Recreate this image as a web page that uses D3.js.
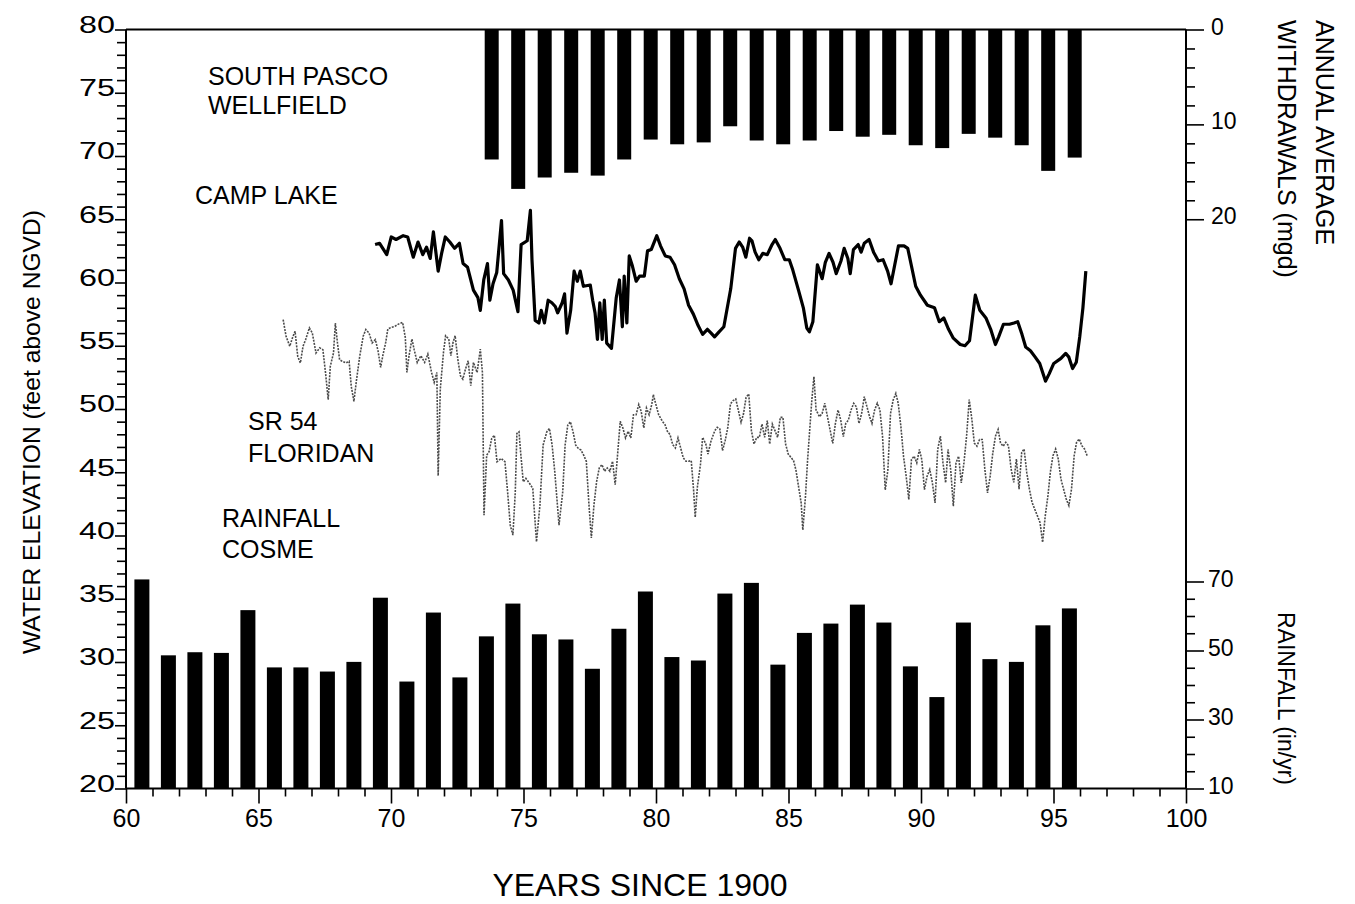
<!DOCTYPE html>
<html><head><meta charset="utf-8">
<script src="https://cdn.jsdelivr.net/npm/d3@7"></script>
<style>
body{margin:0;background:#fff;}
svg{display:block;font-family:"Liberation Sans",Arial,Helvetica,sans-serif;}
</style></head><body>
<svg id="chart" width="1355" height="904"></svg>
<script>
// ---------------- DATA ----------------
const elevTicks = [20,25,30,35,40,45,50,55,60,65,70,75,80];
const yearTicks = [60,65,70,75,80,85,90,95,100];
const withdrawTicks = [0,10,20];
const rainTicks = [10,30,50,70];

// Rainfall at Cosme (in/yr), years since 1900
const rainYears = [60,61,62,63,64,65,66,67,68,69,70,71,72,73,74,75,76,77,78,79,80,81,82,83,84,85,86,87,88,89,90,91,92,93,94,95];
const rainfall  = [70.6,48.6,49.5,49.3,61.7,45.1,45.1,43.9,46.7,65.3,41.0,61.0,42.2,54.1,63.6,54.7,53.2,44.7,56.3,67.1,48.1,47.1,66.5,69.6,45.9,55.1,57.8,63.3,58.1,45.4,36.5,58.1,47.5,46.7,57.3,62.2];

// South Pasco wellfield annual average withdrawals (mgd)
const withdrawYears = [74,75,76,77,78,79,80,81,82,83,84,85,86,87,88,89,90,91,92,93,94,95,96];
const withdrawals   = [13.7,16.8,15.6,15.1,15.4,13.7,11.6,12.1,11.9,10.2,11.7,12.1,11.7,10.7,11.3,11.1,12.2,12.5,11.0,11.4,12.2,14.9,13.5];

// Camp Lake water level (ft NGVD)
const campT = [69.40,69.57,69.84,70.01,70.19,70.46,70.63,70.84,71.02,71.20,71.34,71.48,71.60,71.78,71.91,72.05,72.22,72.40,72.58,72.72,72.89,73.11,73.28,73.37,73.50,73.64,73.73,73.85,73.99,74.17,74.25,74.43,74.61,74.79,74.91,75.14,75.26,75.32,75.44,75.58,75.67,75.79,75.93,76.07,76.20,76.29,76.46,76.55,76.64,76.78,76.91,77.03,77.14,77.26,77.52,77.61,77.70,77.79,77.88,77.97,78.05,78.14,78.32,78.50,78.62,78.73,78.80,78.90,78.99,79.11,79.25,79.38,79.56,79.68,79.82,80.03,80.17,80.35,80.53,80.70,80.88,81.06,81.23,81.41,81.59,81.76,81.94,82.08,82.21,82.38,82.56,82.82,83.00,83.14,83.27,83.39,83.53,83.62,83.74,83.88,84.03,84.20,84.38,84.50,84.68,84.86,85.03,85.16,85.39,85.56,85.69,85.79,85.92,86.09,86.27,86.39,86.53,86.68,86.80,86.98,87.10,87.24,87.33,87.45,87.63,87.74,87.86,88.04,88.21,88.39,88.57,88.74,88.87,89.01,89.15,89.36,89.50,89.63,89.80,89.98,90.24,90.51,90.69,90.86,91.04,91.22,91.48,91.66,91.83,92.05,92.22,92.45,92.63,92.81,92.93,93.11,93.34,93.51,93.65,93.81,93.95,94.13,94.31,94.48,94.70,94.84,95.01,95.28,95.46,95.58,95.72,95.86,95.99,96.11,96.22];
const campElev = [63.0,63.1,62.2,63.6,63.4,63.7,63.6,62.0,63.2,62.2,62.8,61.9,64.0,60.9,62.3,63.6,63.2,62.7,63.1,61.5,61.2,59.4,58.8,57.8,60.2,61.5,58.6,59.9,60.8,64.9,60.7,60.2,59.4,57.7,63.0,63.3,65.7,61.8,57.0,56.8,57.8,56.8,58.6,58.4,58.1,57.6,58.4,59.1,56.0,57.8,60.9,60.1,60.9,59.7,59.8,58.6,57.6,55.5,58.4,55.5,58.6,55.2,54.8,58.8,60.2,56.5,60.5,56.8,62.1,61.3,60.1,60.5,60.5,62.5,62.6,63.7,62.9,62.1,62.0,61.4,60.3,59.5,58.2,57.5,56.6,55.9,56.3,56.0,55.7,56.1,56.5,59.5,62.7,63.2,62.8,62.0,63.5,63.3,62.4,61.8,62.3,62.2,63.0,63.4,62.7,61.8,61.8,61.0,59.3,58.0,56.4,56.1,56.9,61.4,60.3,61.6,62.3,61.6,60.7,61.7,62.7,61.9,60.7,62.6,63.0,62.4,63.1,63.4,62.4,61.7,61.8,60.9,59.9,61.4,62.9,62.9,62.7,61.4,59.7,59.0,58.2,58.0,56.9,57.2,56.3,55.6,55.1,55.0,55.4,59.0,57.8,57.2,56.3,55.1,55.7,56.7,56.7,56.8,56.9,55.9,54.9,54.6,54.1,53.6,52.2,52.8,53.6,54.0,54.4,54.1,53.2,53.7,55.7,58.0,60.9];

// SR 54 Floridan well level (ft NGVD)
const sr54T = [65.93,66.04,66.18,66.28,66.38,66.48,66.58,66.68,66.78,66.92,67.03,67.17,67.31,67.43,67.53,67.63,67.71,67.83,67.90,67.98,68.06,68.16,68.30,68.42,68.50,68.60,68.70,68.82,68.95,69.05,69.17,69.29,69.41,69.51,69.61,69.69,69.80,69.88,70.00,70.14,70.28,70.44,70.54,70.60,70.68,70.79,70.87,70.99,71.13,71.27,71.39,71.53,71.63,71.73,71.78,71.86,71.98,72.06,72.18,72.26,72.34,72.42,72.52,72.62,72.71,72.81,72.91,73.01,73.11,73.25,73.37,73.45,73.51,
73.61,73.70,73.80,73.90,74.00,74.16,74.30,74.40,74.50,74.60,74.69,74.75,74.83,74.89,74.99,75.09,75.23,75.35,75.49,75.62,75.74,75.88,75.98,76.08,76.18,76.34,76.48,76.57,76.67,76.77,76.87,76.97,77.07,77.17,77.27,
77.37,77.47,77.56,77.66,77.76,77.86,77.96,78.06,78.16,78.26,78.36,78.46,78.55,78.65,78.75,78.85,78.95,79.05,79.15,79.25,79.35,79.44,79.54,79.64,79.74,79.84,79.90,79.98,80.10,80.24,80.34,80.43,80.53,80.63,80.73,80.83,80.93,81.03,81.13,81.23,
81.33,81.42,81.48,81.56,81.68,81.76,81.88,81.96,82.08,82.22,82.31,82.41,82.51,82.61,82.71,82.81,82.91,83.01,83.11,83.21,83.30,83.40,83.50,83.60,83.70,83.80,83.90,84.00,84.10,84.20,84.29,84.39,84.49,84.59,84.69,84.79,84.89,84.99,85.09,85.19,
85.28,85.38,85.48,85.54,85.64,85.72,85.80,85.88,85.96,86.04,86.17,86.27,86.37,86.47,86.57,86.67,86.77,86.87,86.97,87.07,87.16,87.26,87.36,87.46,87.56,87.66,87.76,87.86,87.96,88.06,88.15,88.25,88.35,88.45,88.55,88.65,88.75,88.85,88.95,89.05,89.14,
89.24,89.34,89.44,89.54,89.64,89.74,89.84,89.94,90.03,90.13,90.23,90.33,90.43,90.53,90.63,90.73,90.83,90.93,91.02,91.12,91.22,91.32,91.42,91.52,91.62,91.72,91.82,91.92,92.01,92.11,92.21,92.31,92.41,92.51,92.61,92.71,92.81,92.91,93.00,93.10,
93.20,93.30,93.40,93.50,93.60,93.70,93.80,93.89,93.99,94.09,94.19,94.29,94.39,94.49,94.59,94.69,94.79,94.88,94.98,95.08,95.18,95.28,95.38,95.48,95.58,95.68,95.78,95.87,95.97,96.07,96.17,96.27];
const sr54Elev = [57.07,55.75,54.96,55.62,56.14,54.17,53.64,54.96,55.49,56.41,56.01,54.43,54.83,54.69,52.85,50.74,53.38,54.43,56.80,55.22,53.90,53.77,53.64,53.77,51.80,50.61,52.32,54.17,55.75,56.28,56.01,55.22,55.49,54.60,53.29,54.21,55.26,56.32,56.45,56.53,56.71,56.84,55.66,52.89,54.21,55.53,54.73,53.68,54.21,53.68,54.34,52.89,52.10,52.89,44.72,51.57,54.47,55.79,55.53,54.21,55.26,55.79,53.94,52.63,52.36,53.15,53.81,51.84,53.68,52.89,54.73,52.89,41.61,
46.35,46.62,47.67,47.93,45.83,46.09,45.83,43.45,40.82,40.03,43.45,48.07,48.20,46.62,44.24,44.51,44.11,43.72,39.50,42.40,47.14,48.20,48.46,47.14,45.04,40.82,43.45,47.14,48.72,48.99,48.20,47.14,46.88,46.75,46.35,
45.87,42.44,39.81,42.44,44.28,45.34,45.60,45.08,45.34,45.08,45.87,44.02,46.39,49.03,48.50,47.71,48.24,47.71,49.55,49.55,50.35,49.82,48.50,50.08,49.55,50.35,51.14,50.48,49.55,49.03,48.76,48.24,47.97,47.18,46.92,47.71,46.92,46.13,45.87,45.87,
45.92,43.54,41.44,43.81,45.65,47.76,47.23,46.44,47.50,48.29,48.55,48.42,46.71,47.50,48.55,50.40,50.66,50.79,49.87,48.95,49.60,50.92,51.19,48.29,47.23,47.76,47.76,48.81,47.76,49.08,47.23,48.81,48.29,47.76,49.34,49.34,47.23,46.44,46.18,45.92,
45.18,43.86,42.54,40.43,43.07,45.96,48.34,50.71,52.55,49.92,49.39,49.65,50.45,49.39,48.34,47.28,48.86,49.92,49.13,47.81,48.86,49.13,49.92,50.45,50.18,48.86,49.65,50.97,50.18,49.39,48.86,49.92,50.45,49.92,47.81,43.59,45.18,49.65,50.71,51.24,50.45,
48.64,46.27,44.69,42.84,46.00,46.27,45.74,46.80,46.00,43.63,44.69,45.22,44.16,42.58,46.80,47.85,45.74,44.16,46.80,45.22,42.32,45.74,46.27,44.16,45.74,47.85,50.75,49.17,47.32,47.06,47.59,47.59,45.22,43.37,44.69,46.53,47.85,48.38,47.32,47.06,
47.36,47.10,45.26,44.20,46.05,43.67,46.57,46.84,44.99,43.67,42.62,42.09,41.57,41.04,39.46,41.57,43.15,44.99,46.31,46.84,46.05,44.47,43.67,42.88,42.36,43.67,46.31,47.36,47.63,47.10,46.84,46.31];

// ---------------- LAYOUT ----------------
const L = 126, R = 1186, T = 29.5, B = 788.5;
const svg = d3.select("#chart");
const x = d3.scaleLinear().domain([60,100]).range([L,R]);
const yElev = d3.scaleLinear().domain([20,80]).range([B,T]);
const yRain = d3.scaleLinear().domain([10,230]).range([B,T]);
const yWd = d3.scaleLinear().domain([0,80]).range([T,B]);

// bars: rainfall (from bottom)
const rainW = 15, rainOff = 0.6;
svg.append("g").selectAll("rect").data(rainYears).join("rect")
  .attr("x",(d)=>x(d+rainOff)-rainW/2)
  .attr("width",rainW)
  .attr("y",(d,i)=>yRain(rainfall[i]))
  .attr("height",(d,i)=>yRain(10)-yRain(rainfall[i]))
  .attr("fill","#000");

// bars: withdrawals (hanging from top)
const wdW = 14, wdOff = -0.2;
svg.append("g").selectAll("rect").data(withdrawYears).join("rect")
  .attr("x",(d)=>x(d+wdOff)-wdW/2)
  .attr("width",wdW)
  .attr("y",yWd(0))
  .attr("height",(d,i)=>yWd(withdrawals[i])-yWd(0))
  .attr("fill","#000");

// SR 54 line (stippled grey)
const srData = sr54T.map((t,i)=>[t,sr54Elev[i]]);
svg.append("path").datum(srData)
  .attr("d",d3.line().x(d=>x(d[0])).y(d=>yElev(d[1])))
  .attr("fill","none").attr("stroke","#4a4a4a").attr("stroke-width",1.6)
  .attr("stroke-dasharray","2 1.2");

// Camp Lake line
const campData = campT.map((t,i)=>[t,campElev[i]]);
svg.append("path").datum(campData)
  .attr("d",d3.line().x(d=>x(d[0])).y(d=>yElev(d[1])))
  .attr("fill","none").attr("stroke","#000").attr("stroke-width",3.2)
  .attr("stroke-linejoin","round");

// ---------------- AXES ----------------
function styleAxis(g){
  g.select(".domain").remove();
  g.selectAll("line").attr("stroke","#000").attr("stroke-width",1.6);
  g.selectAll("text").attr("fill","#000").attr("font-family",'"Liberation Sans",Arial,sans-serif');
}
// frame lines
const frame = svg.append("g").attr("stroke","#000").attr("stroke-width",2);
frame.append("line").attr("x1",L).attr("x2",L).attr("y1",T).attr("y2",B);
frame.append("line").attr("x1",L).attr("x2",R).attr("y1",B).attr("y2",B);
frame.append("line").attr("x1",L).attr("x2",R).attr("y1",T).attr("y2",T);
frame.append("line").attr("x1",R).attr("x2",R).attr("y1",T).attr("y2",B);

// left minor
const elevMinor = d3.range(20,81,1).filter(v=>v%5!==0);
svg.append("g").attr("transform",`translate(${L},0)`)
  .call(d3.axisLeft(yElev).tickValues(elevMinor).tickSize(9).tickFormat(""))
  .call(styleAxis);
// left major
svg.append("g").attr("transform",`translate(${L},0)`)
  .call(d3.axisLeft(yElev).tickValues(elevTicks).tickSize(11).tickPadding(0).tickFormat(d3.format("d")))
  .call(styleAxis)
  .call(g=>g.selectAll("text").attr("font-size",23).attr("dy","0.12em")
      .attr("textLength",36).attr("lengthAdjust","spacingAndGlyphs"));

// bottom minor
const yearMinor = d3.range(60,101,1).filter(v=>v%5!==0);
svg.append("g").attr("transform",`translate(0,${B})`)
  .call(d3.axisBottom(x).tickValues(yearMinor).tickSize(8).tickFormat(""))
  .call(styleAxis);
svg.append("g").attr("transform",`translate(0,${B})`)
  .call(d3.axisBottom(x).tickValues(yearTicks).tickSize(15).tickPadding(6).tickFormat(d3.format("d")))
  .call(styleAxis)
  .call(g=>g.selectAll("text").attr("font-size",25));

// right: withdrawals
const wdMinor = [2,4,6,8,12,14,16,18];
svg.append("g").attr("transform",`translate(${R},0)`)
  .call(d3.axisRight(yWd).tickValues(wdMinor).tickSize(9).tickFormat(""))
  .call(styleAxis);
svg.append("g").attr("transform",`translate(${R},0)`)
  .call(d3.axisRight(yWd).tickValues(withdrawTicks).tickSize(18).tickPadding(7).tickFormat(d3.format("d")))
  .call(styleAxis)
  .call(g=>g.selectAll("text").attr("font-size",23).attr("dy","0.2em"));

// right: rainfall
const rainMinor = [15,20,25,35,40,45,55,60,65];
svg.append("g").attr("transform",`translate(${R},0)`)
  .call(d3.axisRight(yRain).tickValues(rainMinor).tickSize(9).tickFormat(""))
  .call(styleAxis);
svg.append("g").attr("transform",`translate(${R},0)`)
  .call(d3.axisRight(yRain).tickValues(rainTicks).tickSize(18).tickPadding(4).tickFormat(d3.format("d")))
  .call(styleAxis)
  .call(g=>g.selectAll("text").attr("font-size",23).attr("dy","0.2em"));

// ---------------- TEXT ----------------
const txt = svg.append("g").attr("fill","#000").attr("font-size",25);
function label(s,xx,yy){ txt.append("text").attr("x",xx).attr("y",yy).text(s); }
label("SOUTH PASCO",208,85);
label("WELLFIELD",208,114);
label("CAMP LAKE",195,204);
label("SR 54",248,430);
label("FLORIDAN",248,462);
label("RAINFALL",222,527);
label("COSME",222,558);

// axis titles
svg.append("text").attr("transform","translate(40,432) rotate(-90)")
  .attr("text-anchor","middle").attr("font-size",24)
  .attr("textLength",444).attr("lengthAdjust","spacingAndGlyphs")
  .text("WATER ELEVATION (feet above NGVD)");
svg.append("text").attr("x",640).attr("y",896).attr("text-anchor","middle")
  .attr("font-size",32).text("YEARS SINCE 1900");
svg.append("text").attr("transform","translate(1316,20) rotate(90)")
  .attr("font-size",25).text("ANNUAL AVERAGE");
svg.append("text").attr("transform","translate(1278,20) rotate(90)")
  .attr("font-size",25).text("WITHDRAWALS (mgd)");
svg.append("text").attr("transform","translate(1278,612) rotate(90)")
  .attr("font-size",23).text("RAINFALL (in/yr)");
</script>
</body></html>
